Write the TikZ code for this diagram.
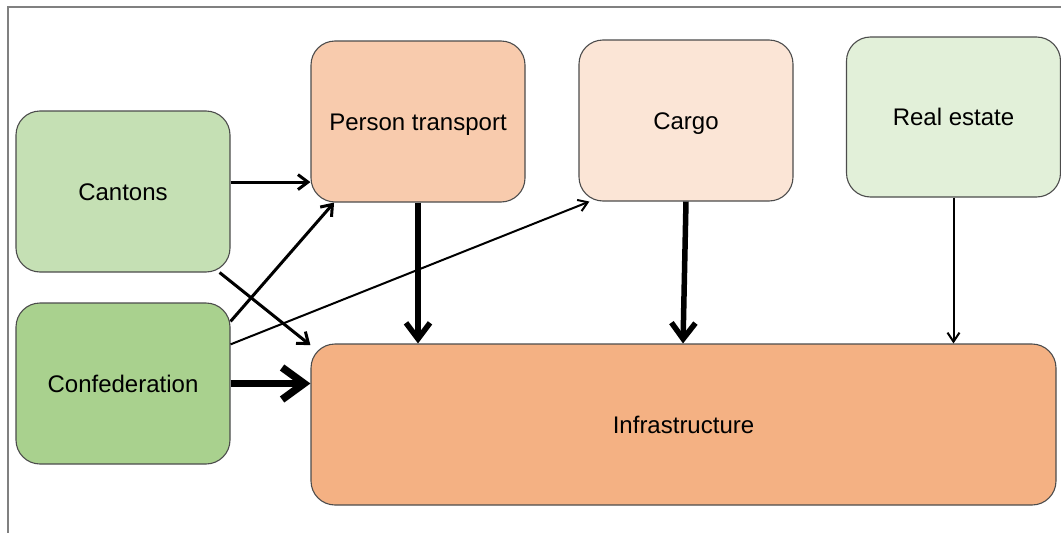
\documentclass[tikz,border=0pt]{standalone}
\usepackage{fontspec}
\setmainfont{Liberation Sans}
\usetikzlibrary{arrows.meta}
\definecolor{cantonsgreen}{HTML}{C5E0B4}
\definecolor{confedgreen}{HTML}{A9D18E}
\definecolor{estategreen}{HTML}{E2F0D9}
\definecolor{personorange}{HTML}{F8CBAD}
\definecolor{cargoorange}{HTML}{FBE5D6}
\definecolor{infraorange}{HTML}{F4B183}
\tikzset{
  box/.style={draw=black!70,line width=1.1pt,rounded corners=24pt,minimum width=214pt,minimum height=161pt,text height=17pt,text depth=0pt,font=\fontsize{24}{28}\selectfont},
  link/.style={line width=3pt,-{Straight Barb[length=10pt,width=15pt]}},
  thinlink/.style={line width=2pt,-{Straight Barb[length=9pt,width=12pt]}},
  thicklink/.style={line width=5.5pt,-{Straight Barb[length=16pt,width=24pt]}},
  heavylink/.style={line width=7.5pt,-{Straight Barb[length=22pt,width=32pt]}}
}

\begin{document}
\begin{tikzpicture}[x=1pt,y=-1pt]
  \useasboundingbox (0,0) rectangle (1061,533);
  \draw[black!50,line width=1.5pt] (1061,7) -- (8,7) -- (8,533);
  % boxes
  \node[box,fill=cantonsgreen] (cantons) at (123,191.5) {Cantons};
  \node[box,fill=confedgreen] (confed) at (123,383.5) {Confederation};
  \node[box,fill=personorange] (person) at (418,121.5) {Person transport};
  \node[box,fill=cargoorange] (cargo) at (686,120.5) {Cargo};
  \node[box,fill=estategreen,minimum height=160pt] (estate) at (953.5,117) {Real estate};
  \node[box,fill=infraorange,minimum width=745pt] (infra) at (683.5,424.5) {Infrastructure};
  % links
  \draw[link] (cantons.5) -- (cantons.5 -| person.west);
  \draw[link] (cantons.-40) -- (infra.168);
  \draw[link] (confed.30) -- (person.224);
  \draw[thinlink] (confed.20) -- (cargo.220);
  \draw[heavylink] (confed.east) -- (confed.east -| infra.west);
  \draw[thicklink] (person.south) -- (person.south |- infra.north);
  \draw[thicklink] (cargo.south) -- ([xshift=-3pt]cargo.south |- infra.north);
  \draw[thinlink] (estate.south) -- (estate.south |- infra.north);
\end{tikzpicture}
\end{document}
